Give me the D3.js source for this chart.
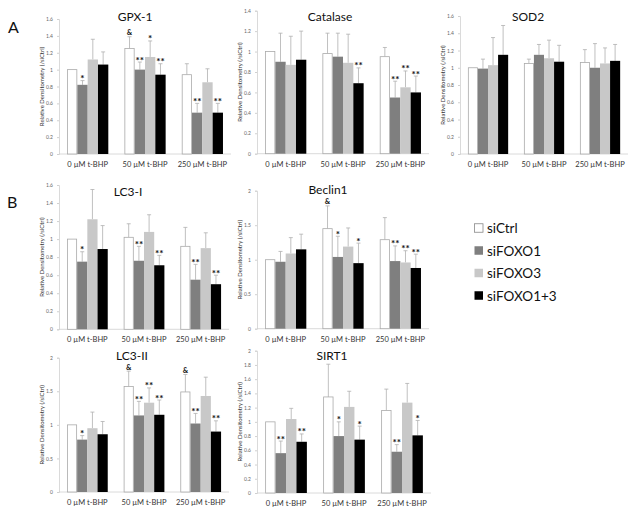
<!DOCTYPE html>
<html><head><meta charset="utf-8">
<script src="https://cdn.jsdelivr.net/npm/d3@7"></script>
<style>body{margin:0;background:#fff}svg{display:block}</style>
</head><body>
<svg id="c" width="632" height="515"></svg>
<script>
const groups = ["0 µM t-BHP", "50 µM t-BHP", "250 µM t-BHP"];
const series = ["siCtrl", "siFOXO1", "siFOXO3", "siFOXO1+3"];
const seriesColors = ["#ffffff", "#7f7f7f", "#c8c8c8", "#000000"];

// values per group [siCtrl, siFOXO1, siFOXO3, siFOXO1+3]
const gpx1Mean = [[1.00, 0.82, 1.12, 1.06], [1.25, 1.00, 1.15, 0.94], [0.94, 0.49, 0.85, 0.49]];
const gpx1Err  = [[0.00, 0.05, 0.24, 0.15], [0.14, 0.09, 0.19, 0.13], [0.13, 0.11, 0.16, 0.11]];
const gpx1Sig  = [["", "*", "", ""], ["&", "**", "*", "**"], ["", "**", "", "**"]];

const catMean = [[1.00, 0.90, 0.87, 0.92], [0.98, 0.95, 0.89, 0.69], [0.95, 0.55, 0.65, 0.60]];
const catErr  = [[0.00, 0.28, 0.28, 0.28], [0.20, 0.23, 0.28, 0.15], [0.09, 0.16, 0.16, 0.16]];
const catSig  = [["", "", "", ""], ["", "", "", "**"], ["", "**", "**", "**"]];

const sod2Mean = [[1.00, 0.99, 1.03, 1.15], [1.05, 1.15, 1.11, 1.07], [1.06, 1.00, 1.05, 1.08]];
const sod2Err  = [[0.00, 0.11, 0.32, 0.34], [0.05, 0.12, 0.21, 0.19], [0.15, 0.28, 0.18, 0.19]];
const sod2Sig  = [["", "", "", ""], ["", "", "", ""], ["", "", "", ""]];

const lc3iMean = [[1.00, 0.75, 1.22, 0.89], [1.02, 0.76, 1.08, 0.71], [0.92, 0.55, 0.90, 0.50]];
const lc3iErr  = [[0.00, 0.11, 0.33, 0.26], [0.15, 0.16, 0.19, 0.11], [0.21, 0.17, 0.17, 0.10]];
const lc3iSig  = [["", "*", "", ""], ["", "**", "", "**"], ["", "**", "", "**"]];

const becMean = [[1.00, 0.97, 1.09, 1.15], [1.45, 1.04, 1.19, 0.95], [1.29, 0.98, 0.96, 0.88]];
const becErr  = [[0.00, 0.15, 0.23, 0.22], [0.33, 0.30, 0.27, 0.29], [0.32, 0.22, 0.17, 0.20]];
const becSig  = [["", "", "", ""], ["&", "*", "", "*"], ["", "**", "**", "**"]];

const lc3iiMean = [[1.00, 0.78, 0.95, 0.86], [1.57, 1.14, 1.33, 1.15], [1.49, 1.02, 1.43, 0.90]];
const lc3iiErr  = [[0.00, 0.06, 0.24, 0.19], [0.23, 0.21, 0.22, 0.22], [0.26, 0.15, 0.28, 0.16]];
const lc3iiSig  = [["", "*", "", ""], ["&", "**", "**", "**"], ["&", "**", "", "**"]];

const sirt1Mean = [[1.00, 0.56, 1.04, 0.72], [1.35, 0.80, 1.21, 0.75], [1.16, 0.58, 1.27, 0.81]];
const sirt1Err  = [[0.00, 0.17, 0.15, 0.11], [0.46, 0.20, 0.22, 0.19], [0.30, 0.10, 0.27, 0.21]];
const sirt1Sig  = [["", "**", "", "**"], ["", "*", "", "*"], ["", "**", "", "*"]];

const yTitle = "Relative Densitometry (/siCtrl)";

const panels = [
  {title: "GPX-1",   mean: gpx1Mean,  err: gpx1Err,  sig: gpx1Sig,  x0: 59,  w: 172, top: 19,    bot: 154,   max: 1.6, step: 0.2, tx: 135, ty: 21},
  {title: "Catalase",mean: catMean,   err: catErr,   sig: catSig,   x0: 257, w: 172, top: 10.7,  bot: 153.7, max: 1.4, step: 0.2, tx: 330, ty: 21},
  {title: "SOD2",    mean: sod2Mean,  err: sod2Err,  sig: sod2Sig,  x0: 460, w: 168, top: 16,    bot: 154,   max: 1.6, step: 0.2, tx: 528, ty: 21},
  {title: "LC3-I",   mean: lc3iMean,  err: lc3iErr,  sig: lc3iSig,  x0: 59,  w: 170, top: 185,   bot: 329.3, max: 1.6, step: 0.2, tx: 128, ty: 196},
  {title: "Beclin1", mean: becMean,   err: becErr,   sig: becSig,   x0: 257, w: 172, top: 190.7, bot: 328.7, max: 2,   step: 0.5, tx: 328, ty: 194},
  {title: "LC3-II",  mean: lc3iiMean, err: lc3iiErr, sig: lc3iiSig, x0: 59,  w: 170, top: 357.7, bot: 492,   max: 2,   step: 0.5, tx: 132, ty: 360},
  {title: "SIRT1",   mean: sirt1Mean, err: sirt1Err, sig: sirt1Sig, x0: 257, w: 174, top: 350.7, bot: 493,   max: 2,   step: 0.2, tx: 332, ty: 360}
];

const svg = d3.select("#c");
const FONT = "Lato, 'Open Sans', sans-serif";

panels.forEach(p => {
  const g = svg.append("g");
  const x = d3.scaleBand().domain(groups).range([p.x0, p.x0 + p.w]).paddingInner(0.28).paddingOuter(0.14);
  const xs = d3.scaleBand().domain(series).range([0, x.bandwidth()]);
  const y = d3.scaleLinear().domain([0, p.max]).range([p.bot, p.top]);
  const ticks = d3.range(0, p.max + 1e-9, p.step).map(v => +v.toFixed(2));

  // y axis
  const ya = g.append("g").attr("transform", `translate(${p.x0},0)`)
    .call(d3.axisLeft(y).tickValues(ticks).tickSize(2).tickPadding(4).tickFormat(d3.format("~g")));
  ya.select(".domain").attr("stroke", "#d0d0d0").attr("stroke-width", 0.8);
  ya.selectAll(".tick line").attr("stroke", "#d0d0d0");
  ya.selectAll(".tick text").attr("fill", "#666").style("font-size", "5px").style("font-family", FONT);

  // x baseline
  g.append("line").attr("x1", p.x0).attr("x2", p.x0 + p.w).attr("y1", y(0)).attr("y2", y(0))
    .attr("stroke", "#d0d0d0").attr("stroke-width", 0.8);

  // x labels
  g.selectAll(".xl").data(groups).join("text")
    .attr("x", d => x(d) + x.bandwidth() / 2).attr("y", y(0) + 13)
    .attr("text-anchor", "middle").attr("fill", "#333")
    .style("font-size", "7.5px").style("font-family", FONT).text(d => d);

  // bars
  groups.forEach((grp, gi) => {
    series.forEach((s, si) => {
      const m = p.mean[gi][si], e = p.err[gi][si];
      const bx = x(grp) + xs(s);
      const bw = xs.bandwidth();
      const cx = bx + bw / 2;
      if (e > 0) {
        g.append("line").attr("x1", cx).attr("x2", cx).attr("y1", y(m)).attr("y2", y(m + e))
          .attr("stroke", "#b0b0b0").attr("stroke-width", 0.8);
        g.append("line").attr("x1", cx - 2).attr("x2", cx + 2).attr("y1", y(m + e)).attr("y2", y(m + e))
          .attr("stroke", "#b0b0b0").attr("stroke-width", 0.8);
      }
      g.append("rect").attr("x", bx + (si === 0 ? 0.5 : 0)).attr("y", y(m))
        .attr("width", bw - (si === 0 ? 1 : 0)).attr("height", y(0) - y(m))
        .attr("fill", seriesColors[si])
        .attr("stroke", si === 0 ? "#aaaaaa" : "none").attr("stroke-width", 0.8);
      const sg = p.sig[gi][si];
      if (sg) {
        g.append("text").attr("x", cx).attr("y", y(m + e) + (sg === "&" ? -1.5 : 1.5))
          .attr("text-anchor", "middle").attr("fill", "#111")
          .style("font-size", sg === "&" ? "7.5px" : "10px").style("font-weight", "bold")
          .style("font-family", FONT).text(sg);
      }
    });
  });

  // title
  g.append("text").attr("x", p.tx).attr("y", p.ty).attr("text-anchor", "middle")
    .attr("fill", "#111").style("font-size", "12px").style("font-family", FONT).text(p.title);

  // y title
  g.append("text").attr("transform", `translate(${p.x0 - 15},${(p.top + p.bot) / 2}) rotate(-90)`)
    .attr("text-anchor", "middle").attr("fill", "#333").style("font-size", "6px")
    .style("font-family", FONT).text(yTitle);
});

// panel letters
svg.append("text").attr("x", 8).attr("y", 33).style("font-size", "16px").style("font-family", FONT).attr("fill", "#111").text("A");
svg.append("text").attr("x", 7).attr("y", 208).style("font-size", "16px").style("font-family", FONT).attr("fill", "#111").text("B");

// legend
const leg = svg.append("g");
const ly = d3.scaleBand().domain(series).range([217, 307]);
series.forEach((s, i) => {
  const yy = ly(s) + ly.bandwidth() / 2;
  leg.append("rect").attr("x", 474.5).attr("y", yy - 4.5).attr("width", 8.5).attr("height", 8.5)
    .attr("fill", seriesColors[i]).attr("stroke", i === 0 ? "#888" : "none").attr("stroke-width", 0.8);
  leg.append("text").attr("x", 487).attr("y", yy + 5).attr("fill", "#111")
    .style("font-size", "13.5px").style("font-family", FONT).text(s);
});
</script>
</body></html>
